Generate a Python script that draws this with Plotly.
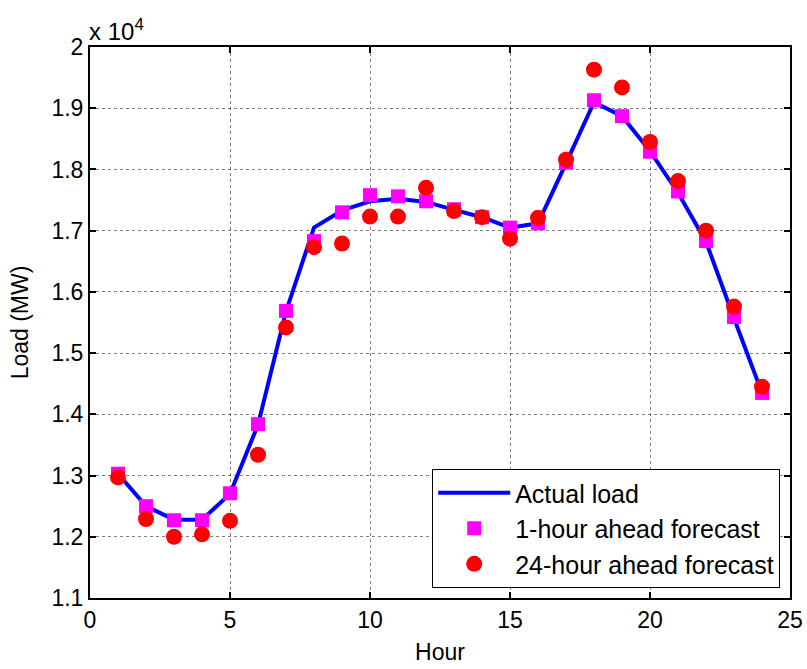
import plotly.graph_objects as go

hours = list(range(1, 25))
actual_load = [13030, 12500, 12280, 12280, 12700, 13830, 15680, 17050, 17330, 17480,
               17520, 17470, 17340, 17220, 17050, 17120, 18100, 19100, 18870, 18300,
               17620, 16820, 15570, 14350]
forecast_1h = [13030, 12500, 12270, 12270, 12710, 13840, 15690, 16830, 17300, 17580,
               17560, 17480, 17350, 17220, 17050, 17120, 18110, 19130, 18870, 18290,
               17640, 16830, 15590, 14350]
forecast_24h = [12970, 12290, 12000, 12040, 12260, 13340, 15420, 16730, 16790, 17230,
                17230, 17700, 17320, 17220, 16870, 17210, 18160, 19630, 19340, 18450,
                17810, 17000, 15760, 14450]
y_tickvals = [11000, 12000, 13000, 14000, 15000, 16000, 17000, 18000, 19000, 20000]
y_ticktext = ["1.1", "1.2", "1.3", "1.4", "1.5", "1.6", "1.7", "1.8", "1.9", "2"]
x_tickvals = [0, 5, 10, 15, 20, 25]

FONT = "Liberation Sans, Arial, sans-serif"

fig = go.Figure()
fig.add_trace(go.Scatter(x=hours, y=actual_load, mode="lines", name="Actual load",
                         line=dict(color="#0000FF", width=4)))
fig.add_trace(go.Scatter(x=hours, y=forecast_1h, mode="markers", name="1-hour ahead forecast",
                         marker=dict(symbol="square", color="#FF00FF", size=14)))
fig.add_trace(go.Scatter(x=hours, y=forecast_24h, mode="markers", name="24-hour ahead forecast",
                         marker=dict(symbol="circle", color="#FF0000", size=16)))

axis_common = dict(showline=True, linecolor="black", linewidth=2, mirror="ticks",
                   ticks="inside", ticklen=6, tickwidth=2, tickcolor="black",
                   showgrid=True, gridcolor="rgba(0,0,0,0.5)", gridwidth=1, griddash="dot",
                   zeroline=False, automargin=False,
                   tickfont=dict(family=FONT, size=23, color="black"))

fig.update_layout(
    width=807, height=669,
    margin=dict(l=90, r=17, t=47, b=71),
    paper_bgcolor="white", plot_bgcolor="white",
    font=dict(family=FONT, size=22, color="black"),
    xaxis=dict(range=[0, 25], tickvals=x_tickvals,
               title=dict(text="Hour", font=dict(family=FONT, size=23), standoff=12),
               **axis_common),
    yaxis=dict(range=[11000, 20000], tickvals=y_tickvals, ticktext=y_ticktext,
               title=dict(text="Load (MW)", font=dict(family=FONT, size=23), standoff=16),
               **axis_common),
    legend=dict(x=0.986, y=0.018, xanchor="right", yanchor="bottom",
                bgcolor="white", bordercolor="black", borderwidth=1,
                font=dict(family=FONT, size=25), itemwidth=72, tracegroupgap=0),
    showlegend=True,
)
fig.add_annotation(xref="paper", yref="paper", x=0, y=1, xanchor="left", yanchor="bottom",
                   text="x 10<sup>4</sup>", showarrow=False, xshift=-3, yshift=0,
                   font=dict(family=FONT, size=24, color="black"))

fig.write_html("out.html")
